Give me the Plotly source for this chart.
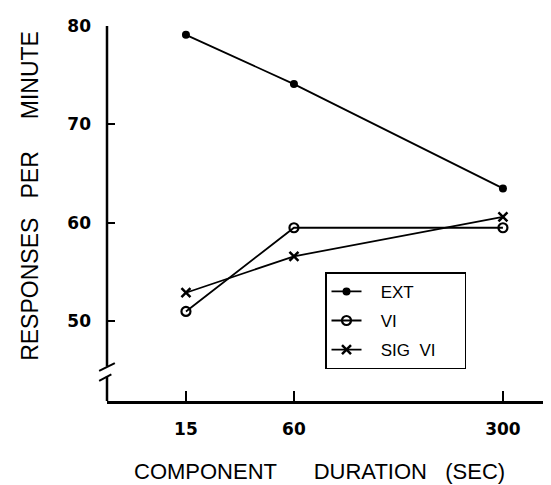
import plotly.graph_objects as go

# ---- data ----
durations = ["15", "60", "300"]          # tick labels (component duration, sec)
duration_slot = [0, 1, 2.935]            # spacing of the durations on the original axis
ext = [79.1, 74.1, 63.5]
vi = [51.0, 59.5, 59.5]
sig_vi = [52.9, 56.6, 60.6]
y_ticks = [50, 60, 70, 80]
series_names = ["EXT", "VI", "SIG\u00a0\u00a0VI"]

FONT = "Liberation Sans, Arial, sans-serif"
TICKFONT = "DejaVu Sans, sans-serif"
NB = "\u00a0"

# page body has an 8px margin: compensate in figure size and margins
W, H = 543, 477
ML, MR, MT, MB = 99, 8, 11, 84
PW = W - ML - MR
PH = H - MT - MB

def legend_label(name):
    return NB * 3 + name + NB * 5

fig = go.Figure()
fig.add_trace(go.Scatter(
    x=duration_slot, y=ext, name=legend_label(series_names[0]), mode="lines+markers", legendgroup="a",
    line=dict(color="black", width=1.8),
    marker=dict(symbol="circle", size=8, color="black")))
fig.add_trace(go.Scatter(
    x=duration_slot, y=vi, name=legend_label(series_names[1]), mode="lines+markers", legendgroup="b",
    line=dict(color="black", width=1.8),
    marker=dict(symbol="circle-open", size=9, color="black", line=dict(width=2.2))))
fig.add_trace(go.Scatter(
    x=duration_slot, y=sig_vi, name=legend_label(series_names[2]), mode="lines+markers", legendgroup="c",
    line=dict(color="black", width=1.8),
    marker=dict(symbol="x-thin-open", size=9, color="black", line=dict(width=2.5))))

y_lo, y_hi = 41.9, 80
gap_hi, gap_lo = 45.4, 44.4

shapes = [
    dict(type="line", xref="paper", yref="y", x0=0, x1=0, y0=y_hi, y1=gap_hi,
         line=dict(color="black", width=2.5)),
    dict(type="line", xref="paper", yref="y", x0=0, x1=0, y0=gap_lo, y1=y_lo,
         line=dict(color="black", width=2.5)),
    dict(type="line", xref="paper", yref="y", x0=-0.018, x1=0.018, y0=gap_hi - 0.45, y1=gap_hi + 0.35,
         line=dict(color="black", width=2)),
    dict(type="line", xref="paper", yref="y", x0=-0.018, x1=0.010, y0=gap_lo - 0.45, y1=gap_lo + 0.2,
         line=dict(color="black", width=2)),
]

fig.update_layout(
    width=W, height=H,
    margin=dict(l=ML, r=MR, t=MT, b=MB),
    paper_bgcolor="white", plot_bgcolor="white",
    showlegend=True,
    legend=dict(
        x=0.5, y=0.343, xanchor="left", yanchor="top",
        bordercolor="black", borderwidth=1.5, bgcolor="white",
        font=dict(family=FONT, size=17, color="black"),
        tracegroupgap=4, itemwidth=30,
    ),
    shapes=shapes,
    annotations=[
        dict(text="COMPONENT" + NB * 6 + "DURATION" + NB * 3 + "(SEC)",
             xref="paper", yref="paper", x=(311 - ML) / PW, y=-(465 - (MT + PH)) / PH,
             xanchor="center", yanchor="middle", showarrow=False,
             font=dict(family=FONT, size=22, color="black")),
        dict(text="RESPONSES" + NB * 3 + "PER" + NB * 5 + "MINUTE",
             xref="paper", yref="paper", x=(22 - ML) / PW, y=((MT + PH) - 184) / PH,
             xanchor="center", yanchor="middle", showarrow=False, textangle=-90,
             font=dict(family=FONT, size=23, color="black")),
    ],
)

fig.update_xaxes(
    range=[-0.731, 3.306], showgrid=False, zeroline=False,
    showline=True, linecolor="black", linewidth=2.5,
    tickmode="array", tickvals=duration_slot, ticktext=durations,
    ticks="inside", ticklen=10, tickwidth=2, tickcolor="black",
    tickfont=dict(family=TICKFONT, size=17, color="black", weight="bold"),
    ticklabelstandoff=11,
)
fig.update_yaxes(
    range=[y_lo, y_hi], showgrid=False, zeroline=False, showline=False,
    tickmode="array", tickvals=y_ticks,
    ticks="inside", ticklen=8, tickwidth=2, tickcolor="black",
    tickfont=dict(family=TICKFONT, size=17, color="black", weight="bold"),
    ticklabelstandoff=15,
)

fig.write_html("out.html")
